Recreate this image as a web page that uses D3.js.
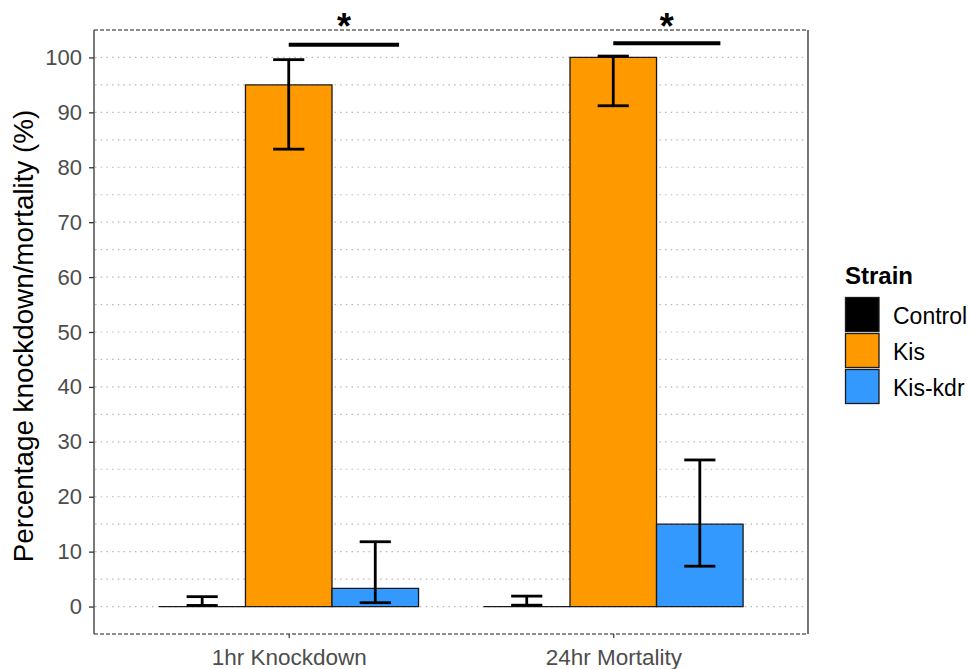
<!DOCTYPE html>
<html>
<head>
<meta charset="utf-8">
<script src="https://cdn.jsdelivr.net/npm/d3@7"></script>
<style>
  html, body { margin: 0; padding: 0; background: #fff; }
  svg { display: block; font-family: "Liberation Sans", Arial, sans-serif; }
</style>
</head>
<body>
<svg id="chart" width="971" height="669"></svg>
<script>
// Assay groups and strains
const categories = ["1hr Knockdown", "24hr Mortality"];
const strains = ["Control", "Kis", "Kis-kdr"];
const strainColors = ["#000000", "#FF9900", "#3399FF"];

// Mean percentage per strain, one array per assay (order follows `strains`)
const knockdownMeans = [0, 95, 3.3];
const mortalityMeans = [0, 100, 15];

// Error bar limits (lower, upper) per strain
const knockdownLower = [0.2, 83.3, 0.7];
const knockdownUpper = [1.8, 99.6, 11.8];
const mortalityLower = [0.25, 91.2, 7.35];
const mortalityUpper = [1.9, 100.25, 26.7];

// Significance brackets: start/end positions in category units and height
const sigStart = [1.0, 2.0];
const sigEnd = [1.34, 2.33];
const sigLevel = [102.3, 102.6];
const sigLabel = ["*", "*"];

const yTicks = [0, 10, 20, 30, 40, 50, 60, 70, 80, 90, 100];
const yGrid = d3.range(0, 101, 5);

const rows = [
  { cat: categories[0], means: knockdownMeans, lo: knockdownLower, hi: knockdownUpper },
  { cat: categories[1], means: mortalityMeans, lo: mortalityLower, hi: mortalityUpper }
];

const svg = d3.select("#chart");
const panel = { left: 94, right: 808, top: 30, bottom: 634 };
const FONT = "'Liberation Sans', Arial, sans-serif";

// Continuous x in category units (1, 2) with ggplot-like padding
const x = d3.scaleLinear().domain([0.4, 2.6]).range([panel.left, panel.right]);
const y = d3.scaleLinear().domain([-5, 105]).range([panel.bottom, panel.top]);
const groupWidth = 0.8;
const barWidth = groupWidth / strains.length;
const ebHalf = 0.048;

// Grid lines (dotted)
svg.append("g")
  .selectAll("line")
  .data(yGrid)
  .join("line")
  .attr("x1", panel.left + 1)
  .attr("x2", panel.right - 1)
  .attr("y1", d => y(d))
  .attr("y2", d => y(d))
  .attr("stroke", "#b8b8b8")
  .attr("stroke-width", 1.2)
  .attr("stroke-dasharray", "1.5,4.2");

// Bars (paths so zero-height bars still show their outline)
const bars = [];
rows.forEach((r, ci) => {
  strains.forEach((s, si) => {
    const center = (ci + 1) - groupWidth / 2 + barWidth * (si + 0.5);
    bars.push({ center, value: r.means[si], lo: r.lo[si], hi: r.hi[si], color: strainColors[si] });
  });
});

svg.append("g")
  .selectAll("path")
  .data(bars)
  .join("path")
  .attr("d", d => {
    const x0 = x(d.center - barWidth / 2), x1 = x(d.center + barWidth / 2);
    const y0 = y(0), y1 = y(d.value);
    return `M${x0},${y0}H${x1}V${y1}H${x0}Z`;
  })
  .attr("fill", d => d.color)
  .attr("stroke", "#1a1a1a")
  .attr("stroke-width", 1.3);

// Error bars
const eb = svg.append("g").attr("stroke", "#000").attr("stroke-width", 2.8).attr("fill", "none");
bars.forEach(d => {
  const cx = x(d.center);
  eb.append("line").attr("x1", cx).attr("x2", cx).attr("y1", y(d.lo)).attr("y2", y(d.hi));
  eb.append("line").attr("x1", x(d.center - ebHalf)).attr("x2", x(d.center + ebHalf))
    .attr("y1", y(d.lo)).attr("y2", y(d.lo));
  eb.append("line").attr("x1", x(d.center - ebHalf)).attr("x2", x(d.center + ebHalf))
    .attr("y1", y(d.hi)).attr("y2", y(d.hi));
});

// Panel border: dashed top/bottom, solid sides
svg.append("line").attr("x1", panel.left).attr("x2", panel.right)
  .attr("y1", panel.top).attr("y2", panel.top)
  .attr("stroke", "#1a1a1a").attr("stroke-width", 1).attr("stroke-dasharray", "4,2");
svg.append("line").attr("x1", panel.left).attr("x2", panel.right)
  .attr("y1", panel.bottom).attr("y2", panel.bottom)
  .attr("stroke", "#1a1a1a").attr("stroke-width", 1).attr("stroke-dasharray", "4,2");
svg.append("line").attr("x1", panel.right).attr("x2", panel.right)
  .attr("y1", panel.top).attr("y2", panel.bottom)
  .attr("stroke", "#1a1a1a").attr("stroke-width", 1.2);

// Y axis
const yAxis = d3.axisLeft(y).tickValues(yTicks).tickSize(5).tickPadding(7);
const gy = svg.append("g").attr("transform", `translate(${panel.left},0)`).call(yAxis);
gy.select(".domain").attr("d", `M0,${panel.top}V${panel.bottom}`).attr("stroke", "#333").attr("stroke-width", 1.3);
gy.selectAll(".tick line").attr("stroke", "#333").attr("stroke-width", 1.3);
gy.selectAll(".tick text").attr("fill", "#4d4d4d").style("font-size", "22px").style("font-family", FONT);

// X axis (ticks and labels only)
const xAxis = d3.axisBottom(x).tickValues([1, 2]).tickFormat((d, i) => categories[i]).tickSize(4).tickPadding(11);
const gx = svg.append("g").attr("transform", `translate(0,${panel.bottom})`).call(xAxis);
gx.select(".domain").remove();
gx.selectAll(".tick line").attr("stroke", "#333").attr("stroke-width", 1.2);
gx.selectAll(".tick text").attr("fill", "#4d4d4d").style("font-size", "22.5px").style("font-family", FONT);

// Y axis title
svg.append("text")
  .attr("transform", `translate(33,${(panel.top + panel.bottom) / 2 + 4}) rotate(-90)`)
  .attr("text-anchor", "middle")
  .attr("fill", "#000")
  .style("font-size", "27.8px")
  .text("Percentage knockdown/mortality (%)");

// Significance brackets
sigStart.forEach((s, i) => {
  svg.append("line")
    .attr("x1", x(s)).attr("x2", x(sigEnd[i]))
    .attr("y1", y(sigLevel[i])).attr("y2", y(sigLevel[i]))
    .attr("stroke", "#000").attr("stroke-width", 4);
  svg.append("text")
    .attr("x", x((s + sigEnd[i]) / 2)).attr("y", 38.5)
    .attr("text-anchor", "middle")
    .attr("fill", "#000")
    .style("font-size", "36px").style("font-weight", "bold")
    .text(sigLabel[i]);
});

// Legend
const legend = svg.append("g").attr("transform", "translate(845,0)");
legend.append("text").attr("x", 0).attr("y", 283.5)
  .style("font-size", "24px").style("font-weight", "bold").attr("fill", "#000").text("Strain");
const keyTops = [297.5, 333.5, 369.5];
strains.forEach((s, i) => {
  legend.append("rect")
    .attr("x", 0.5).attr("y", keyTops[i]).attr("width", 33.5).attr("height", 34)
    .attr("fill", strainColors[i]).attr("stroke", "#1a1a1a").attr("stroke-width", 1.3);
  legend.append("text")
    .attr("x", 48).attr("y", keyTops[i] + 17).attr("dy", "0.4em")
    .style("font-size", "23px").attr("fill", "#000").text(s);
});
</script>
</body>
</html>
